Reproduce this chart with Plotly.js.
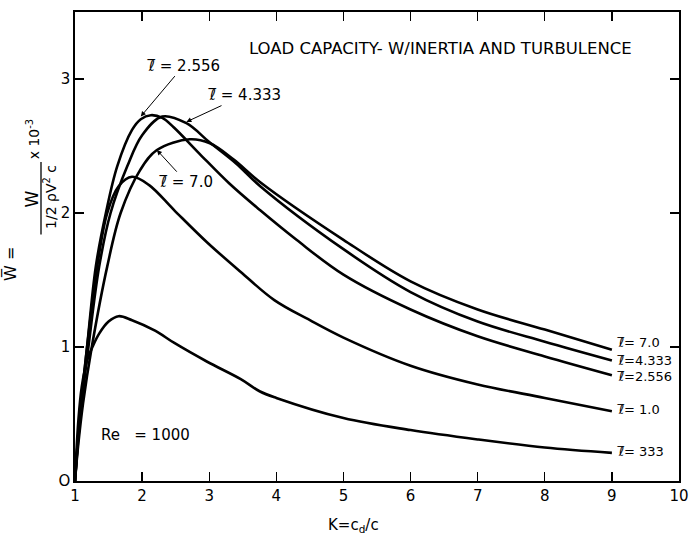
<!DOCTYPE html>
<html>
<head>
<meta charset="utf-8">
<script src="https://cdn.plot.ly/plotly-3.0.1.min.js"></script>
<style>html,body{margin:0;padding:0;background:#fff;}#chart{width:692px;height:540px;}</style>
</head>
<body>
<div id="chart"></div>
<script>
// ---- data ----
const seriesNames = ["ℓ̅ = 333", "ℓ̅ = 1.0", "ℓ̅ = 2.556", "ℓ̅ = 4.333", "ℓ̅ = 7.0"];

const x333 = [1, 1.05, 1.1, 1.18, 1.26, 1.36, 1.5, 1.65, 1.85, 2.2, 2.48, 2.97, 3.47, 3.75, 4, 5, 6, 7, 8, 9];
const y333 = [0, 0.45, 0.7, 0.9, 1.0, 1.1, 1.19, 1.23, 1.2, 1.12, 1.03, 0.89, 0.76, 0.67, 0.62, 0.47, 0.38, 0.31, 0.25, 0.21];

const x10 = [1, 1.05, 1.1, 1.18, 1.33, 1.48, 1.65, 1.85, 2.1, 2.48, 2.97, 3.47, 3.97, 4.5, 5, 6, 7, 8, 9];
const y10 = [0, 0.35, 0.62, 1.0, 1.6, 2.0, 2.2, 2.27, 2.21, 2.02, 1.78, 1.56, 1.35, 1.2, 1.07, 0.86, 0.72, 0.62, 0.52];

const x2556 = [1, 1.05, 1.1, 1.18, 1.31, 1.46, 1.63, 1.85, 1.98, 2.13, 2.3, 2.47, 2.86, 3.3, 3.76, 4.3, 5, 6, 7, 8, 9];
const y2556 = [0, 0.35, 0.62, 1.0, 1.6, 2.0, 2.35, 2.62, 2.7, 2.73, 2.71, 2.64, 2.44, 2.22, 2.02, 1.8, 1.54, 1.28, 1.08, 0.93, 0.79];

const x4333 = [1, 1.05, 1.1, 1.2, 1.36, 1.53, 1.78, 2.0, 2.3, 2.66, 3.0, 3.4, 3.76, 5, 6, 7, 8, 9];
const y4333 = [0, 0.32, 0.58, 1.0, 1.6, 2.0, 2.35, 2.58, 2.72, 2.67, 2.53, 2.37, 2.2, 1.73, 1.41, 1.19, 1.04, 0.9];

const x7 = [1, 1.05, 1.12, 1.25, 1.48, 1.68, 1.97, 2.22, 2.71, 3.01, 3.36, 3.76, 5, 6, 7, 8, 9];
const y7 = [0, 0.28, 0.58, 1.0, 1.6, 2.0, 2.32, 2.47, 2.55, 2.52, 2.4, 2.23, 1.8, 1.49, 1.28, 1.13, 0.98];

const xTicks = [1, 2, 3, 4, 5, 6, 7, 8, 9, 10];
const yTicks = [0, 1, 2, 3];
const yTickLabels = ["O", "1", "2", "3"];

const chartTitle = "LOAD CAPACITY- W/INERTIA AND TURBULENCE";
const xTitle = "K=c<sub>d</sub>/c";
const reText = "Re &nbsp;&nbsp;= 1000";

// right-end labels
const endLabels = ["ℓ̅= 7.0", "ℓ̅=4.333", "ℓ̅=2.556", "ℓ̅= 1.0", "ℓ̅= 333"];
const endLabelY = [1.03, 0.90, 0.78, 0.53, 0.22];

// ---- drawing ----
const FONT = "DejaVu Sans, Liberation Sans, sans-serif";
const xs = [x333, x10, x2556, x4333, x7];
const ys = [y333, y10, y2556, y4333, y7];
const traces = xs.map((x, i) => ({
  x: x, y: ys[i], type: "scatter", mode: "lines", name: seriesNames[i],
  line: {color: "#000", width: 2.6, shape: "spline", smoothing: 1},
  hoverinfo: "skip", showlegend: false
}));

const ann = [];
const f = (s) => ({family: FONT, size: s, color: "#000"});
const txt = (t, x, y, opts) => Object.assign({
  text: t, x: x, y: y, xref: "x", yref: "y", showarrow: false, font: f(15)
}, opts || {});

ann.push(txt(chartTitle, 3.57, 3.23, {xanchor: "left", font: f(16.5)}));
ann.push(txt(reText, 1.36, 0.34, {xanchor: "left", font: f(15)}));
endLabels.forEach((t, i) => ann.push(txt(t, 9.04, endLabelY[i], {xanchor: "left", font: f(13)})));

// top labels with leader arrows (arrow head on the curve, text at ax/ay)
const lead = (t, hx, hy, tx, ty) => ({
  text: t, x: hx, y: hy, ax: tx, ay: ty, xref: "x", yref: "y", axref: "x", ayref: "y",
  showarrow: true, arrowhead: 2, arrowsize: 1, arrowwidth: 1, arrowcolor: "#000", standoff: 0,
  font: f(15)
});
ann.push(lead("ℓ̅ = 2.556", 1.98, 2.72, 2.62, 3.10));
ann.push(lead("ℓ̅ = 4.333", 2.66, 2.68, 3.52, 2.88));
ann.push(lead("ℓ̅ = 7.0", 2.22, 2.47, 2.66, 2.23));

// x title
ann.push({text: xTitle, xref: "x", yref: "paper", x: 5.15, y: -0.095, xanchor: "center", yanchor: "middle",
  showarrow: false, font: f(15)});

// y title pieces (rotated)
const ypx = (px) => (px - 75) / 604;
const rot = (t, px, y, size) => ({text: t, xref: "paper", yref: "y", x: ypx(px), y: y, textangle: -90,
  xanchor: "center", yanchor: "middle", showarrow: false, font: f(size)});
ann.push(rot("W̅ =", 11, 1.62, 16));
ann.push(rot("W", 32, 2.1, 17));
ann.push(rot("1/2 ρV<sup>2</sup> c", 50, 2.12, 14));
ann.push(rot("x 10<sup>-3</sup>", 33, 2.55, 14));

const shapes = [{type: "line", xref: "paper", yref: "y", x0: ypx(41), x1: ypx(41), y0: 1.84, y1: 2.38,
  line: {color: "#000", width: 1.3}}];

const layout = {
  width: 692, height: 540,
  margin: {l: 75, r: 13, t: 12, b: 59},
  paper_bgcolor: "#fff", plot_bgcolor: "#fff",
  font: {family: FONT, color: "#000"},
  xaxis: {range: [1, 10], tickvals: xTicks, ticktext: xTicks.map(String), ticks: "inside", ticklen: 9, tickwidth: 1.3,
    tickcolor: "#000", showline: true, linecolor: "#000", linewidth: 1.8, mirror: "ticks", showgrid: false, zeroline: false,
    tickfont: f(15)},
  yaxis: {range: [0, 3.5], tickvals: yTicks, ticktext: yTickLabels, ticks: "inside", ticklen: 9, tickwidth: 1.3,
    tickcolor: "#000", showline: true, linecolor: "#000", linewidth: 1.8, mirror: "ticks", showgrid: false, zeroline: false,
    tickfont: f(15)},
  annotations: ann, shapes: shapes, showlegend: false
};
Plotly.newPlot("chart", traces, layout, {staticPlot: true, displayModeBar: false});
</script>
</body>
</html>
